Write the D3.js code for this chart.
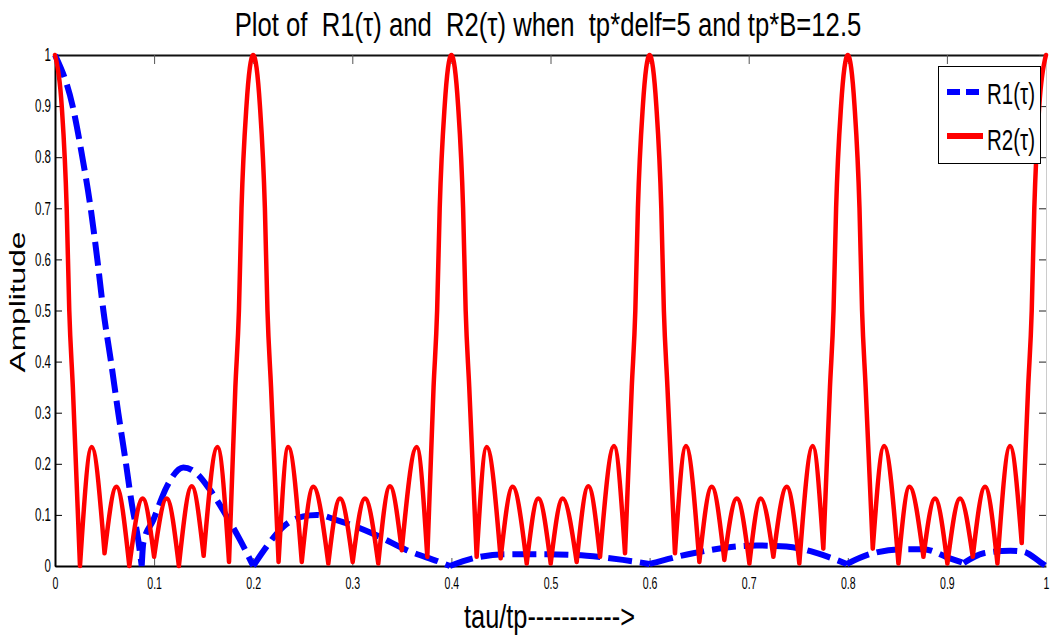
<!DOCTYPE html>
<html>
<head>
<meta charset="utf-8">
<script src="https://cdn.jsdelivr.net/npm/d3@7/dist/d3.min.js"></script>
<style>
  body { margin: 0; background: #fff; }
  svg text { font-family: "Liberation Sans", Arial, sans-serif; fill: #000; }
</style>
</head>
<body>
<script>
var titleText = "Plot of  R1(\u03c4) and  R2(\u03c4) when  tp*delf=5 and tp*B=12.5";
var xLabel = "tau/tp----------->";
var yLabel = "Amplitude";
var seriesNames = ["R1(\u03c4)", "R2(\u03c4)"];

var xTicks = [0, 0.1, 0.2, 0.3, 0.4, 0.5, 0.6, 0.7, 0.8, 0.9, 1];
var xTickLabels = ["0", "0.1", "0.2", "0.3", "0.4", "0.5", "0.6", "0.7", "0.8", "0.9", "1"];
var yTicks = [0, 0.1, 0.2, 0.3, 0.4, 0.5, 0.6, 0.7, 0.8, 0.9, 1];
var yTickLabels = ["0", "0.1", "0.2", "0.3", "0.4", "0.5", "0.6", "0.7", "0.8", "0.9", "1"];

// [tau/tp, amplitude]
var r1 = [
  [0, 1], [0.0178, 0.9], [0.0276, 0.8], [0.036, 0.7], [0.0427, 0.6], [0.0488, 0.5],
  [0.0565, 0.4], [0.0639, 0.299], [0.0706, 0.214], [0.0774, 0.123], [0.084, 0.051], [0.0875, 0],
  [0.0891, 0.045], [0.0992, 0.09], [0.1127, 0.155], [0.1295, 0.193], [0.143, 0.181],
  [0.1564, 0.149], [0.1733, 0.097], [0.1867, 0.051], [0.2, 0], [0.2135, 0.038],
  [0.2304, 0.077], [0.2506, 0.097], [0.264, 0.1], [0.2843, 0.09], [0.3245, 0.06],
  [0.355, 0.031], [0.388, 0.008], [0.3985, 0], [0.422, 0.015], [0.456, 0.023],
  [0.4961, 0.023], [0.5365, 0.02], [0.573, 0.012], [0.6, 0.004], [0.644, 0.025],
  [0.708, 0.04], [0.738, 0.038], [0.769, 0.025], [0.799, 0.004], [0.822, 0.023],
  [0.856, 0.033], [0.876, 0.033], [0.903, 0.015], [0.917, 0.006], [0.937, 0.025],
  [0.964, 0.03], [0.977, 0.028], [0.994, 0.008], [1, 0]
];

var r2 = [
  [0, 1], [0.0068, 0.9], [0.0118, 0.7], [0.0144, 0.5], [0.018, 0.35], [0.0252, 0],
  [0.037, 0.233], [0.05, 0.025], [0.062, 0.155], [0.075, 0], [0.0885, 0.132], [0.1, 0.018],
  [0.1127, 0.132], [0.125, 0], [0.138, 0.156], [0.15, 0.02], [0.164, 0.233], [0.1756, 0.008],
  [0.182, 0.35], [0.1856, 0.5], [0.1882, 0.7], [0.1932, 0.9], [0.2, 1], [0.2068, 0.9],
  [0.2118, 0.7], [0.2144, 0.5], [0.218, 0.35],
  [0.2256, 0.008], [0.2354, 0.233], [0.249, 0.008], [0.2606, 0.155], [0.2758, 0.005],
  [0.2876, 0.132], [0.3004, 0.008], [0.3128, 0.132], [0.3262, 0.005], [0.338, 0.156],
  [0.3499, 0.031], [0.365, 0.233], [0.3757, 0.018],
  [0.382, 0.35], [0.3856, 0.5], [0.3882, 0.7], [0.3932, 0.9], [0.4, 1], [0.4068, 0.9],
  [0.4118, 0.7], [0.4144, 0.5], [0.418, 0.35],
  [0.4255, 0.018], [0.4356, 0.233], [0.4497, 0.015], [0.4618, 0.155], [0.476, 0.005],
  [0.4877, 0.132], [0.5002, 0.005], [0.5123, 0.132], [0.5264, 0.008], [0.5382, 0.156],
  [0.55, 0.018], [0.5641, 0.235], [0.5752, 0.025],
  [0.582, 0.35], [0.5856, 0.5], [0.5882, 0.7], [0.5932, 0.9], [0.6, 1], [0.6068, 0.9],
  [0.6118, 0.7], [0.6144, 0.5], [0.618, 0.35],
  [0.6256, 0.025], [0.6367, 0.235], [0.6502, 0.008], [0.6627, 0.155], [0.6754, 0.012],
  [0.688, 0.132], [0.7007, 0.005], [0.7122, 0.132], [0.7249, 0.018], [0.7384, 0.155],
  [0.7511, 0.005], [0.7646, 0.235], [0.7753, 0.034],
  [0.782, 0.35], [0.7856, 0.5], [0.7882, 0.7], [0.7932, 0.9], [0.8, 1], [0.8068, 0.9],
  [0.8118, 0.7], [0.8144, 0.5], [0.818, 0.35],
  [0.8252, 0.034], [0.8366, 0.235], [0.8511, 0.005], [0.8622, 0.155], [0.8763, 0.018],
  [0.888, 0.132], [0.9005, 0.005], [0.9133, 0.132], [0.9261, 0.018], [0.9385, 0.155],
  [0.951, 0.005], [0.9637, 0.235], [0.9755, 0.045],
  [0.982, 0.35], [0.9856, 0.5], [0.9882, 0.7], [0.9932, 0.9], [1, 1]
];

var margin = {top: 55, right: 4, bottom: 75, left: 55},
    width = 1050 - margin.left - margin.right,
    height = 641 - margin.top - margin.bottom;

var svg = d3.select("body").append("svg")
    .attr("width", 1050)
    .attr("height", 641);

var g = svg.append("g")
    .attr("transform", "translate(" + margin.left + "," + margin.top + ")");

var x = d3.scaleLinear().domain([0, 1]).range([0, width]);
var y = d3.scaleLinear().domain([0, 1]).range([height, 0]);

// narrow text like the original: squeeze horizontally with a scale transform
function squeezeTicks(sel, k) {
  sel.each(function() {
    var t = d3.select(this);
    var tx = +t.attr("x") || 0;
    t.attr("x", tx / k).attr("transform", "scale(" + k + ",1)");
  });
}
function narrowText(parent, px, py, rot, target, size, anchor, str) {
  var t = parent.append("text")
      .attr("text-anchor", anchor)
      .style("font-size", size + "px")
      .style("white-space", "pre")
      .text(str);
  var k = target / t.node().getComputedTextLength();
  t.attr("transform", "translate(" + px + "," + py + ")" +
      (rot ? " rotate(" + rot + ")" : "") + " scale(" + k + ",1)");
  return t;
}

// axes
var xAxis = g.append("g")
    .attr("transform", "translate(0," + height + ")")
    .call(d3.axisBottom(x).tickValues(xTicks)
      .tickFormat(function(d, i) { return xTickLabels[i]; })
      .tickSizeInner(-8).tickSizeOuter(0).tickPadding(12));
xAxis.select(".domain").attr("stroke", "#000").attr("stroke-width", 2);
xAxis.selectAll(".tick line").attr("stroke", "#555");
xAxis.selectAll("text").style("font-size", "16px");
squeezeTicks(xAxis.selectAll("text"), 0.66);

var yAxis = g.append("g")
    .call(d3.axisLeft(y).tickValues(yTicks)
      .tickFormat(function(d, i) { return yTickLabels[i]; })
      .tickSizeInner(-7).tickSizeOuter(0).tickPadding(4));
yAxis.select(".domain").attr("stroke", "#000").attr("stroke-width", 2);
yAxis.selectAll(".tick line").attr("stroke", "#000");
yAxis.selectAll("text").style("font-size", "18px");
squeezeTicks(yAxis.selectAll("text"), 0.64);

var topAxis = g.append("g")
    .call(d3.axisTop(x).tickValues(xTicks).tickFormat("")
      .tickSizeInner(-9).tickSizeOuter(0));
topAxis.select(".domain").attr("stroke", "#111").attr("stroke-width", 2);
topAxis.selectAll(".tick line").attr("stroke", "#555");

var rightAxis = g.append("g")
    .attr("transform", "translate(" + width + ",0)")
    .call(d3.axisRight(y).tickValues(yTicks).tickFormat("")
      .tickSizeInner(-7).tickSizeOuter(0));
rightAxis.select(".domain").attr("stroke", "#ccc").attr("stroke-width", 1);
rightAxis.selectAll(".tick line").attr("stroke", "#222");

// lines: smooth arches between the valleys, sharp at the valleys
var line = d3.line()
    .x(function(d) { return x(d[0]); })
    .y(function(d) { return y(d[1]); })
    .curve(d3.curveMonotoneX);

function splitAtValleys(data) {
  var segs = [], cur = [data[0]];
  for (var i = 1; i < data.length; i++) {
    cur.push(data[i]);
    if (i < data.length - 1 && data[i][1] < data[i - 1][1] && data[i][1] <= data[i + 1][1]) {
      segs.push(cur);
      cur = [data[i]];
    }
  }
  segs.push(cur);
  return segs.map(function(s) { return line(s); }).join("");
}

g.append("path")
    .attr("fill", "none")
    .attr("stroke", "#0000ff")
    .attr("stroke-width", 6)
    .attr("stroke-dasharray", "24,8")
    .attr("d", splitAtValleys(r1));

g.append("path")
    .attr("fill", "none")
    .attr("stroke", "#ff0000")
    .attr("stroke-width", 4.5)
    .attr("stroke-linejoin", "round")
    .attr("stroke-linecap", "round")
    .attr("d", splitAtValleys(r2));

// title and axis labels
narrowText(svg, 548, 36, 0, 627, 33, "middle", titleText);
narrowText(svg, 549.5, 628, 0, 171, 33, "middle", xLabel);
narrowText(svg, 25, 302, -90, 141, 22, "middle", yLabel);

// legend
var legend = svg.append("g");
legend.append("rect")
    .attr("x", 938.5).attr("y", 66.5)
    .attr("width", 102).attr("height", 97)
    .attr("fill", "#fff")
    .attr("stroke", "#000")
    .attr("stroke-width", 1);

var legendStyles = [
  {color: "#0000ff", width: 6, dash: "13,6", x2: 979},
  {color: "#ff0000", width: 6, dash: null, x2: 983}
];
seriesNames.forEach(function(name, i) {
  var ly = 92 + i * 44;
  var s = legendStyles[i];
  legend.append("line")
      .attr("x1", 947).attr("x2", s.x2)
      .attr("y1", ly).attr("y2", ly)
      .attr("stroke", s.color)
      .attr("stroke-width", s.width)
      .attr("stroke-dasharray", s.dash);
  narrowText(legend, 987, ly + 12 + i * 2, 0, 48, 29, "start", name);
});
</script>
</body>
</html>
